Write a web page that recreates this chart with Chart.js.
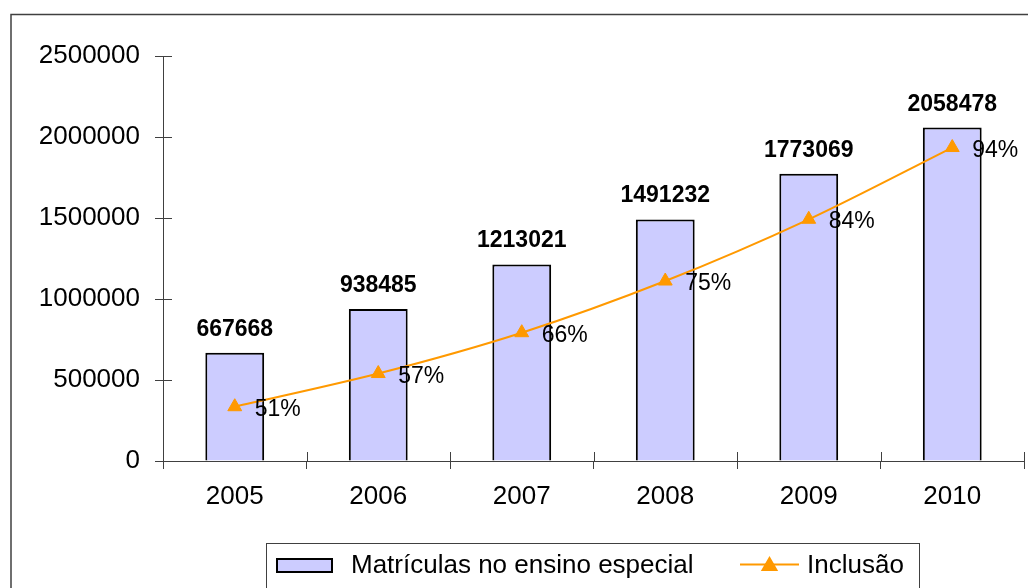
<!DOCTYPE html>
<html>
<head>
<meta charset="utf-8">
<script src="https://cdn.jsdelivr.net/npm/chart.js@4.4.0/dist/chart.umd.min.js"></script>
<style>
  html, body { margin: 0; padding: 0; background: #fff; }
  #wrap { width: 1028px; height: 588px; position: relative; }
</style>
</head>
<body>
<div id="wrap"><canvas id="c" width="1028" height="588"></canvas></div>
<script>
const categories = ['2005', '2006', '2007', '2008', '2009', '2010'];
const matriculas = [667668, 938485, 1213021, 1491232, 1773069, 2058478];
const inclusao = [335000, 540000, 792000, 1111000, 1492000, 1935000];
const inclusaoPct = ['51%', '57%', '66%', '75%', '84%', '94%'];
const yTicks = [0, 500000, 1000000, 1500000, 2000000, 2500000];

const FONT = '"Liberation Sans", Arial, sans-serif';
const AXIS = '#404040';
const ORANGE = '#FF9900';
const BARFILL = '#CCCCFF';

const decor = {
  id: 'decor',
  afterDraw(chart) {
    const ctx = chart.ctx;
    const x = chart.scales.x, y = chart.scales.y;
    ctx.save();
    // outer frame
    ctx.strokeStyle = AXIS;
    ctx.lineWidth = 1.5;
    ctx.strokeRect(11, 14.5, 1200, 800);

    // inner halves of cross ticks
    ctx.lineWidth = 1;
    ctx.strokeStyle = AXIS;
    ctx.beginPath();
    y.ticks.forEach((t, i) => {
      const py = Math.round(y.getPixelForTick(i)) + 0.5;
      ctx.moveTo(y.right, py); ctx.lineTo(y.right + 9, py);
    });
    for (let i = 0; i <= categories.length; i++) {
      const px = Math.round(x.getPixelForValue(i - 0.5)) + 0.5;
      ctx.moveTo(px, x.top); ctx.lineTo(px, x.top - 9);
    }
    ctx.stroke();

    const ds = chart.data.datasets;
    const barIdx = ds.findIndex(d => d.type === 'bar');
    const lineIdx = ds.findIndex(d => d.type === 'line');

    // bar value labels
    const barMeta = chart.getDatasetMeta(barIdx);
    ctx.fillStyle = '#000';
    ctx.font = 'bold 23px ' + FONT;
    ctx.textAlign = 'center';
    ctx.textBaseline = 'alphabetic';
    barMeta.data.forEach((el, i) => {
      ctx.fillText(String(matriculas[i]), el.x, el.y - 17);
    });

    // percent labels
    const lineMeta = chart.getDatasetMeta(lineIdx);
    ctx.font = '23px ' + FONT;
    ctx.textAlign = 'left';
    lineMeta.data.forEach((el, i) => {
      ctx.fillText(inclusaoPct[i], el.x + 20, el.y + 9);
    });

    // legend
    ctx.strokeStyle = AXIS;
    ctx.lineWidth = 1;
    ctx.strokeRect(266.5, 543.5, 653, 80);
    // bar swatch
    ctx.fillStyle = BARFILL;
    ctx.fillRect(277, 559, 55, 13);
    ctx.strokeStyle = '#000';
    ctx.lineWidth = 2;
    ctx.strokeRect(277, 559, 55, 13);
    ctx.fillStyle = '#000';
    ctx.font = '26px ' + FONT;
    ctx.textBaseline = 'alphabetic';
    ctx.fillText(ds[barIdx].label, 351, 573);
    // line swatch
    ctx.strokeStyle = ORANGE;
    ctx.lineWidth = 2;
    ctx.beginPath();
    ctx.moveTo(740, 564.5); ctx.lineTo(799, 564.5);
    ctx.stroke();
    Chart.helpers.drawPoint(ctx, { pointStyle: 'triangle', radius: 8, borderWidth: 1 }, 769.5, 566);
    ctx.fillStyle = ORANGE;
    ctx.fill();
    ctx.fillStyle = '#000';
    ctx.fillText(ds[lineIdx].label, 807, 573);
    ctx.restore();
  }
};

new Chart(document.getElementById('c'), {
  data: {
    labels: categories,
    datasets: [
      {
        type: 'line',
        label: 'Inclusão',
        data: inclusao,
        borderColor: ORANGE,
        backgroundColor: ORANGE,
        borderWidth: 2,
        tension: 0.3,
        pointStyle: 'triangle',
        pointRadius: 8,
        pointBorderWidth: 1,
        pointBackgroundColor: ORANGE,
        pointBorderColor: ORANGE,
        fill: false,
        order: 0
      },
      {
        type: 'bar',
        label: 'Matrículas no ensino especial',
        data: matriculas,
        backgroundColor: BARFILL,
        borderColor: '#000',
        borderWidth: 2,
        barPercentage: 0.41,
        categoryPercentage: 1,
        order: 1
      }
    ]
  },
  options: {
    responsive: false,
    animation: false,
    devicePixelRatio: 1,
    layout: { autoPadding: false, padding: { top: 56, right: 4, left: 0, bottom: 0 } },
    plugins: {
      legend: { display: false },
      title: { display: false },
      tooltip: { enabled: false }
    },
    scales: {
      x: {
        offset: true,
        grid: { display: true, drawOnChartArea: false, drawTicks: true, tickLength: 8, color: AXIS, offset: true },
        border: { display: true, color: AXIS, width: 1 },
        ticks: { color: '#000', font: { family: FONT, size: 26 }, padding: 12, maxRotation: 0 },
        afterFit(s) { s.height = 127; }
      },
      y: {
        min: 0,
        max: 2500000,
        afterBuildTicks(s) { s.ticks = yTicks.map(v => ({ value: v })); },
        grid: { display: true, drawOnChartArea: false, drawTicks: true, tickLength: 8, color: AXIS },
        border: { display: true, color: AXIS, width: 1 },
        ticks: { color: '#000', font: { family: FONT, size: 26 }, padding: 15, callback: v => String(v) },
        afterFit(s) { s.width = 163; }
      }
    }
  },
  plugins: [decor]
});
</script>
</body>
</html>
